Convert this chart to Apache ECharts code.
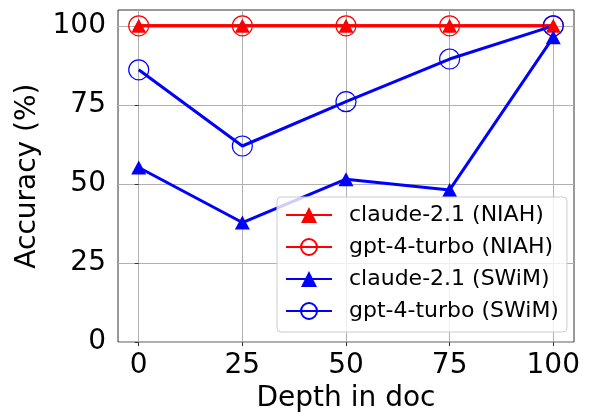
<!DOCTYPE html>
<html>
<head>
<meta charset="utf-8">
<script src="https://cdn.jsdelivr.net/npm/echarts@6/dist/echarts.min.js"></script>
<style>
html,body{margin:0;padding:0;background:#fff;}
#chart{width:595px;height:418px;}
</style>
</head>
<body>
<div id="chart"></div>
<script>
var depths = [0, 25, 50, 75, 100];
var xTicks = [0, 25, 50, 75, 100];
var yTicks = [0, 25, 50, 75, 100];
var claudeNIAH = [100, 100, 100, 100, 100];
var gptNIAH = [100, 100, 100, 100, 100];
var claudeSWiM = [55.2, 37.8, 51.5, 48.1, 96.4];
var gptSWiM = [86.1, 62, 76, 89.5, 100];
var seriesNames = ['claude-2.1 (NIAH)', 'gpt-4-turbo (NIAH)', 'claude-2.1 (SWiM)', 'gpt-4-turbo (SWiM)'];

function pairs(vals) { return depths.map(function (d, i) { return [d, vals[i]]; }); }

var FONT = 'DejaVu Sans';
var RED = '#ff0000', BLUE = '#0000ff';

function mk(name, vals, color, tri) {
  return {
    name: name, type: 'line', data: pairs(vals), clip: false,
    symbol: tri ? 'triangle' : 'circle',
    symbolSize: tri ? [15, 14] : 20,
    lineStyle: { color: color, width: 3 },
    itemStyle: tri ? { color: color } : { color: 'transparent', borderColor: color, borderWidth: 1.2 },
    emphasis: { disabled: true },
    animation: false
  };
}

var chart = echarts.init(document.getElementById('chart'), null, { renderer: 'canvas' });
chart.setOption({
  animation: false,
  textStyle: { fontFamily: FONT },
  grid: { left: 118, right: 21, top: 10, bottom: 74, show: true, borderColor: '#333', borderWidth: 1, containLabel: false },
  xAxis: {
    type: 'value', min: -5, max: 105,
    name: 'Depth in doc', nameLocation: 'middle', nameGap: 42,
    nameTextStyle: { fontFamily: FONT, fontSize: 28, color: '#000' },
    axisLine: { show: false },
    axisTick: { show: true, length: 4, lineStyle: { color: '#333' }, customValues: xTicks },
    axisLabel: { fontFamily: FONT, fontSize: 28, color: '#000', margin: 10, customValues: xTicks },
    splitLine: { show: true, lineStyle: { color: '#b0b0b0', width: 1 } }
  },
  yAxis: {
    type: 'value', min: 0, max: 105,
    name: 'Accuracy (%)', nameLocation: 'middle', nameGap: 74,
    nameTextStyle: { fontFamily: FONT, fontSize: 28, color: '#000' },
    axisLine: { show: false },
    axisTick: { show: true, length: 4, lineStyle: { color: '#333' }, customValues: yTicks },
    axisLabel: { fontFamily: FONT, fontSize: 28, color: '#000', margin: 12, customValues: yTicks },
    splitLine: { show: true, lineStyle: { color: '#b0b0b0', width: 1 } }
  },
  legend: {
    orient: 'vertical', left: 277, top: 197,
    padding: [7, 8, 10, 8],
    itemWidth: 46, itemHeight: 20, itemGap: 10,
    backgroundColor: 'rgba(255,255,255,0.8)', borderColor: '#cccccc', borderWidth: 1, borderRadius: 4,
    textStyle: { fontFamily: FONT, fontSize: 22, color: '#000', lineHeight: 22, padding: [0, 0, 0, 12] },
    data: seriesNames
  },
  series: [
    mk(seriesNames[0], claudeNIAH, RED, true),
    mk(seriesNames[1], gptNIAH, RED, false),
    mk(seriesNames[2], claudeSWiM, BLUE, true),
    mk(seriesNames[3], gptSWiM, BLUE, false)
  ]
});
</script>
</body>
</html>
